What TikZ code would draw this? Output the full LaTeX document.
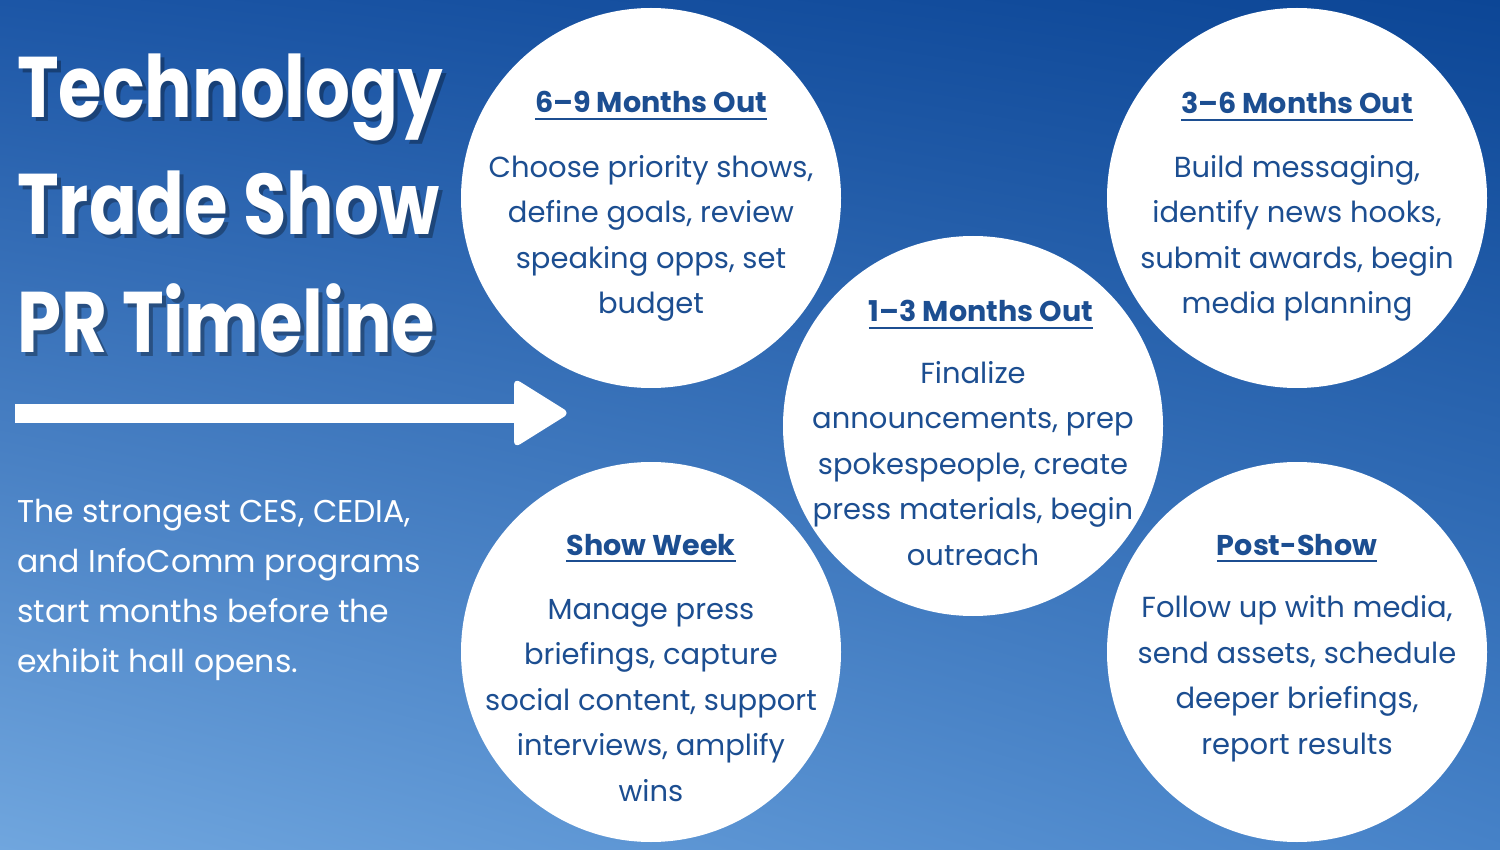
\documentclass[tikz,border=0pt]{standalone}
\usepackage{fontspec}
\setmainfont{Poppins}
\newfontfamily\titlefont[FakeStretch=0.82]{Poppins}
\usetikzlibrary{positioning, shadings}

\definecolor{bgul}{RGB}{28,86,166}
\definecolor{bgur}{RGB}{12,70,150}
\definecolor{bgll}{RGB}{112,166,222}
\definecolor{bglr}{RGB}{70,130,200}
\definecolor{inkblue}{RGB}{28,78,145}

\begin{document}
\begin{tikzpicture}[x=1pt, y=-1pt,
        % --- Styles ---
        stage/.style={circle, fill=white, minimum size=380pt, inner sep=0pt},
        stagehead/.style={anchor=base, inner sep=0pt, text=inkblue, font=\fontsize{28.6}{30}\selectfont\bfseries},
        stagetext/.style={anchor=base, inner sep=0pt, align=center, text=inkblue, font=\fontsize{29}{45.5}\selectfont},
        titleline/.style={anchor=base west, inner sep=0pt, text=white, font=\titlefont\fontsize{86}{90}\selectfont\bfseries},
        titleshadow/.style={titleline, text=black, opacity=0.3},
        leadtext/.style={anchor=base west, inner sep=0pt, align=left, text=white, font=\fontsize{31.5}{50}\selectfont},
        % --- Line Styles ---
        headrule/.style={draw=inkblue, line width=2.2pt},
        bigarrow/.style={draw=white, line width=19pt}
    ]
        \useasboundingbox (0,0) rectangle (1500,850);
        \shade[upper left=bgul, upper right=bgur, lower left=bgll, lower right=bglr] (0,0) rectangle (1500,850);

        % --- Title ---
        \node[titleshadow] (title1s) at (21,122) {Technology};
        \node[titleshadow] (title2s) at (21,239) {Trade Show};
        \node[titleshadow] (title3s) at (21,357) {PR Timeline};
        \node[titleline] (title1) at (17,118) {Technology};
        \node[titleline] (title2) at (17,235) {Trade Show};
        \node[titleline] (title3) at (17,353) {PR Timeline};

        % --- Arrow ---
        \coordinate (arrowstart) at (15,413);
        \coordinate (arrowend) at (566,413);
        \draw[bigarrow] (arrowstart) -- ([xshift=-20pt]arrowend);
        \fill[white, rounded corners=7pt] ([xshift=-52pt,yshift=35pt]arrowend) -- ([xshift=4pt]arrowend) -- ([xshift=-52pt,yshift=-35pt]arrowend) -- cycle;

        % base of a multi-line node = baseline of its last line
        \node[leadtext] (lead) at (17,672) {The strongest CES, CEDIA,\\and InfoComm programs\\start months before the\\exhibit hall opens.};

        % --- Circles ---
        \node[stage] (sixnine) at (651,198) {};
        \node[stage] (threesix) at (1297,198) {};
        \node[stage] (onethree) at (973,426) {};
        \node[stage] (showweek) at (651,652) {};
        \node[stage] (postshow) at (1297,652) {};

        % --- Headings ---
        \node[stagehead] (sixninehead) at (651,113) {6--9 Months Out};
        \node[stagehead] (threesixhead) at (1297,114) {3--6 Months Out};
        \node[stagehead] (onethreehead) at (981,322) {1--3 Months Out};
        \node[stagehead] (showweekhead) at (651,555) {Show Week};
        \node[stagehead] (postshowhead) at (1297,555) {Post-Show};
        \draw[headrule] ([yshift=-6pt]sixninehead.base west) -- ([yshift=-6pt]sixninehead.base east);
        \draw[headrule] ([yshift=-6pt]threesixhead.base west) -- ([yshift=-6pt]threesixhead.base east);
        \draw[headrule] ([yshift=-6pt]onethreehead.base west) -- ([yshift=-6pt]onethreehead.base east);
        \draw[headrule] ([yshift=-6pt]showweekhead.base west) -- ([yshift=-6pt]showweekhead.base east);
        \draw[headrule] ([yshift=-6pt]postshowhead.base west) -- ([yshift=-6pt]postshowhead.base east);

        % --- Stage text ---
        \node[stagetext] (sixninetext) at (651,314) {Choose priority shows,\\define goals, review\\speaking opps, set\\budget};
        \node[stagetext] (threesixtext) at (1297,314) {Build messaging,\\identify news hooks,\\submit awards, begin\\media planning};
        \node[stagetext] (onethreetext) at (973,565) {Finalize\\announcements, prep\\spokespeople, create\\press materials, begin\\outreach};
        \node[stagetext] (showweektext) at (651,801) {Manage press\\briefings, capture\\social content, support\\interviews, amplify\\wins};
        \node[stagetext] (postshowtext) at (1297,754) {Follow up with media,\\send assets, schedule\\deeper briefings,\\report results};

    \end{tikzpicture}
\end{document}
